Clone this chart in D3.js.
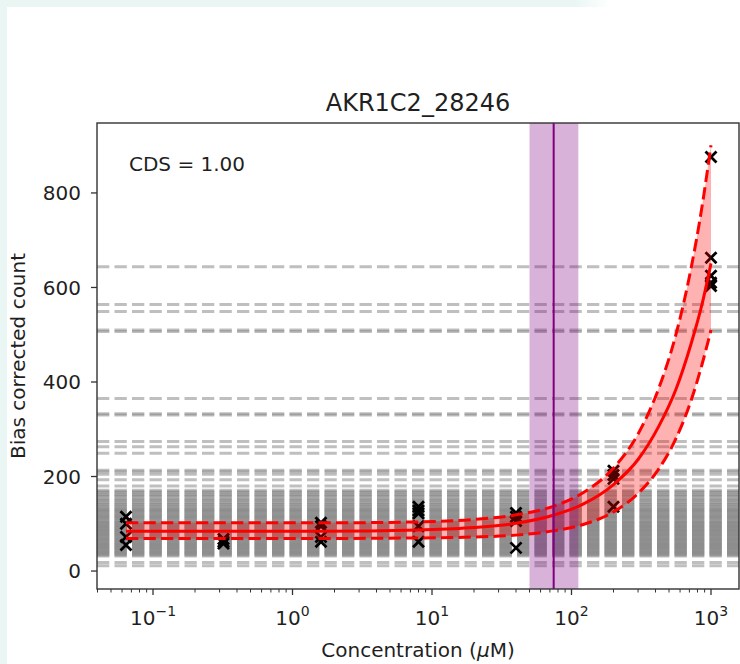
<!DOCTYPE html>
<html>
<head>
<meta charset="utf-8">
<script src="https://cdn.jsdelivr.net/npm/d3@7"></script>
<style>
  body { margin: 0; background: #fff; }
  svg { display: block; }
  text { font-family: "DejaVu Sans", sans-serif; fill: #1f1f1f; }
</style>
</head>
<body>
<svg id="chart" width="740" height="664"></svg>
<script>
// ---- data ----
const chartTitle = "AKR1C2_28246";
const cdsText = "CDS = 1.00";

// tested concentrations (µM) and replicate bias-corrected counts
const concentrations = [0.064, 0.32, 1.6, 8, 40, 200, 1000];
const replicateCounts = [
  [115, 100, 72, 55],
  [68, 62, 58],
  [102, 95, 72, 62],
  [136, 128, 122, 95, 62],
  [123, 115, 106, 49],
  [212, 203, 195, 136],
  [876, 663, 625, 610, 603]
];

// fitted response and its confidence bounds, sampled along concentration
const fitConc  = [0.064, 0.32, 1.6, 8, 20, 40, 74, 120, 200, 300, 420, 560, 720, 860, 1000];
const fitMid   = [84, 84, 84, 87, 92, 101, 118, 141, 183, 236, 305, 384, 481, 563, 651];
const fitUpper = [102, 102, 102, 104, 109, 119, 137, 165, 218, 290, 385, 500, 641, 769, 901];
const fitLower = [69, 69, 69, 70, 72, 76, 85, 98, 125, 164, 215, 280, 361, 436, 510];

// point of departure and its interval (µM)
const podConc = 74.5;
const podInterval = [50, 112];

// counts of the reference (non-responding) features drawn as dashed guides
const referenceCounts = [
  644, 564, 549, 510, 507, 365, 333, 330, 274, 263, 249,
  213, 210, 205, 193, 180,
  171, 168, 166, 162, 160, 157, 153, 151, 148, 145, 142, 140, 137, 135,
  132, 130, 128, 126, 124, 121, 119, 117, 115, 113, 111, 108, 106, 104,
  102, 100, 98, 96, 94, 92, 90, 88, 86, 84, 82, 80, 78, 76, 74, 72, 70,
  68, 66, 64, 62, 60, 58, 56, 54, 52, 50, 48, 46, 44, 42, 40, 38, 36, 34, 32,
  18, 11
];

const yTicks = [0, 200, 400, 600, 800];
const xTickExponents = [-1, 0, 1, 2, 3];

// ---- layout ----
const svg = d3.select("#chart");
const W = 740, H = 664;
const plot = { left: 97, right: 739, top: 123, bottom: 589 };

// page backdrop strips
const defs = svg.append("defs");
const grad = defs.append("linearGradient").attr("id", "topFade")
  .attr("x1", 0).attr("x2", 1).attr("y1", 0).attr("y2", 0);
grad.append("stop").attr("offset", "0").attr("stop-color", "#eaf6f4");
grad.append("stop").attr("offset", 575 / 610).attr("stop-color", "#eaf6f4");
grad.append("stop").attr("offset", "1").attr("stop-color", "#ffffff");
svg.append("rect").attr("x", 0).attr("y", 0).attr("width", W).attr("height", H).attr("fill", "#fff");
svg.append("rect").attr("x", 0).attr("y", 0).attr("width", 610).attr("height", 7).attr("fill", "url(#topFade)");
svg.append("rect").attr("x", 0).attr("y", 0).attr("width", 7).attr("height", H).attr("fill", "#eaf6f4");

const x = d3.scaleLog()
  .domain([Math.pow(10, -1.4015), Math.pow(10, 3.2007)])
  .range([plot.left, plot.right]);
const y = d3.scaleLinear()
  .domain([-38, 948])
  .range([plot.bottom, plot.top]);

defs.append("clipPath").attr("id", "plotClip")
  .append("rect")
  .attr("x", plot.left).attr("y", plot.top)
  .attr("width", plot.right - plot.left).attr("height", plot.bottom - plot.top);

const g = svg.append("g").attr("clip-path", "url(#plotClip)");

const dash = "12.3,5.2";

// reference guide lines
g.append("g").selectAll("line")
  .data(referenceCounts)
  .join("line")
  .attr("x1", plot.left).attr("x2", plot.right)
  .attr("y1", d => y(d)).attr("y2", d => y(d))
  .attr("stroke", "#808080")
  .attr("stroke-opacity", 0.5)
  .attr("stroke-width", 3)
  .attr("stroke-dasharray", dash);

// replicate markers
const pts = [];
concentrations.forEach((c, i) => replicateCounts[i].forEach(v => pts.push([c, v])));
const m = 5.5;
g.append("g").selectAll("path")
  .data(pts)
  .join("path")
  .attr("d", d => {
    const px = x(d[0]), py = y(d[1]);
    return `M${px - m},${py - m}L${px + m},${py + m}M${px - m},${py + m}L${px + m},${py - m}`;
  })
  .attr("stroke", "#000")
  .attr("stroke-width", 2.8)
  .attr("fill", "none");

// confidence band
const fitRows = fitConc.map((c, i) => ({ c, mid: fitMid[i], up: fitUpper[i], lo: fitLower[i] }));
const area = d3.area()
  .x(d => x(d.c))
  .y0(d => y(d.lo))
  .y1(d => y(d.up))
  .curve(d3.curveMonotoneX);
g.append("path")
  .datum(fitRows)
  .attr("d", area)
  .attr("fill", "#ff0000")
  .attr("fill-opacity", 0.3);

// point-of-departure interval
g.append("rect")
  .attr("x", x(podInterval[0]))
  .attr("width", x(podInterval[1]) - x(podInterval[0]))
  .attr("y", plot.top).attr("height", plot.bottom - plot.top)
  .attr("fill", "#800080")
  .attr("fill-opacity", 0.3);

// fitted curve and bounds
const lineFor = key => d3.line()
  .x(d => x(d.c))
  .y(d => y(d[key]))
  .curve(d3.curveMonotoneX);
g.append("path").datum(fitRows).attr("d", lineFor("up"))
  .attr("fill", "none").attr("stroke", "#ff0000").attr("stroke-width", 3)
  .attr("stroke-dasharray", dash);
g.append("path").datum(fitRows).attr("d", lineFor("lo"))
  .attr("fill", "none").attr("stroke", "#ff0000").attr("stroke-width", 3)
  .attr("stroke-dasharray", dash);
g.append("path").datum(fitRows).attr("d", lineFor("mid"))
  .attr("fill", "none").attr("stroke", "#ff0000").attr("stroke-width", 3);

// point of departure line
g.append("line")
  .attr("x1", x(podConc)).attr("x2", x(podConc))
  .attr("y1", plot.top).attr("y2", plot.bottom)
  .attr("stroke", "#800080").attr("stroke-width", 2);

// frame
svg.append("rect")
  .attr("x", plot.left).attr("y", plot.top)
  .attr("width", plot.right - plot.left).attr("height", plot.bottom - plot.top)
  .attr("fill", "none").attr("stroke", "#333").attr("stroke-width", 1.4);

// y axis
const yAxis = svg.append("g");
yTicks.forEach(t => {
  yAxis.append("line")
    .attr("x1", plot.left - 6).attr("x2", plot.left)
    .attr("y1", y(t)).attr("y2", y(t))
    .attr("stroke", "#333").attr("stroke-width", 1.3);
  yAxis.append("text")
    .attr("x", plot.left - 16).attr("y", y(t))
    .attr("dy", "0.36em")
    .attr("text-anchor", "end")
    .attr("font-size", 20)
    .text(t);
});

// x axis: major and minor log ticks
const xAxis = svg.append("g");
const [d0, d1] = x.domain();
for (let e = -2; e <= 3; e++) {
  for (let k = 1; k <= 9; k++) {
    const v = k * Math.pow(10, e);
    if (v < d0 || v > d1) continue;
    const major = k === 1;
    xAxis.append("line")
      .attr("x1", x(v)).attr("x2", x(v))
      .attr("y1", plot.bottom).attr("y2", plot.bottom + (major ? 6 : 3.5))
      .attr("stroke", "#333").attr("stroke-width", major ? 1.3 : 1);
  }
}
xTickExponents.forEach(e => {
  const t = xAxis.append("text")
    .attr("x", x(Math.pow(10, e)))
    .attr("y", 625)
    .attr("text-anchor", "middle")
    .attr("font-size", 20);
  t.append("tspan").text("10");
  t.append("tspan").attr("dy", -9).attr("font-size", 14)
    .text(e < 0 ? "\u2212" + Math.abs(e) : String(e));
});

// labels
svg.append("text")
  .attr("x", (plot.left + plot.right) / 2).attr("y", 111)
  .attr("text-anchor", "middle").attr("font-size", 24)
  .text(chartTitle);

svg.append("text")
  .attr("x", 129).attr("y", 171)
  .attr("font-size", 20)
  .text(cdsText);

const xl = svg.append("text")
  .attr("x", (plot.left + plot.right) / 2).attr("y", 657)
  .attr("text-anchor", "middle").attr("font-size", 20);
xl.append("tspan").text("Concentration (");
xl.append("tspan").attr("font-style", "italic").text("\u03bc");
xl.append("tspan").text("M)");

svg.append("text")
  .attr("transform", `translate(25,${(plot.top + plot.bottom) / 2}) rotate(-90)`)
  .attr("text-anchor", "middle").attr("font-size", 20)
  .text("Bias corrected count");
</script>
</body>
</html>
